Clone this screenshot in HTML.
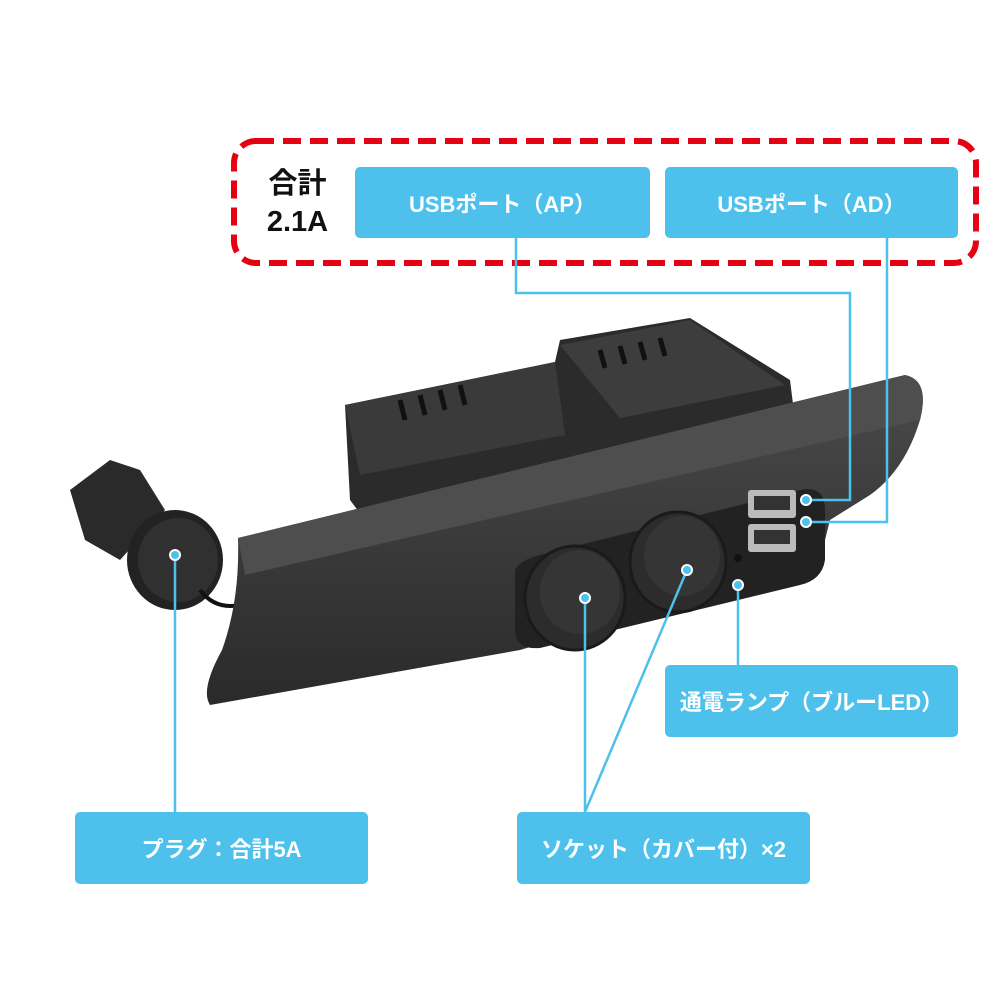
<!DOCTYPE html>
<html><head><meta charset="utf-8"><style>
body{margin:0;width:1000px;height:1000px;background:#fff;position:relative;overflow:hidden;font-family:"Liberation Sans","Noto Sans CJK JP",sans-serif}
.b{position:absolute;background:#4dc0ec;color:#fff;font-weight:bold;font-size:22px;display:flex;align-items:center;justify-content:center;border-radius:5px}
</style></head><body>
<svg width="1000" height="1000" style="position:absolute;left:0;top:0">
<defs>
<linearGradient id="g1" x1="0" y1="0" x2="0" y2="1"><stop offset="0" stop-color="#4a4a4a"/><stop offset="1" stop-color="#2a2a2a"/></linearGradient>
<linearGradient id="g2" x1="0" y1="0" x2="0" y2="1"><stop offset="0" stop-color="#555"/><stop offset="1" stop-color="#333"/></linearGradient>
</defs>
<!-- back box -->
<polygon points="345,405 555,362 560,340 690,318 790,380 795,420 800,470 380,540 350,500" fill="#2b2b2b"/>
<polygon points="345,405 555,362 565,435 360,475" fill="#3a3a3a"/>
<polygon points="560,345 690,320 785,385 620,418" fill="#3d3d3d"/>
<g stroke="#111" stroke-width="5">
<line x1="400" y1="400" x2="405" y2="420"/><line x1="420" y1="395" x2="425" y2="415"/><line x1="440" y1="390" x2="445" y2="410"/><line x1="460" y1="385" x2="465" y2="405"/>
<line x1="600" y1="350" x2="605" y2="368"/><line x1="620" y1="346" x2="625" y2="364"/><line x1="640" y1="342" x2="645" y2="360"/><line x1="660" y1="338" x2="665" y2="356"/>
</g>
<!-- plug -->
<polygon points="70,490 110,460 140,470 165,510 120,560 85,540" fill="#2a2a2a"/>
<ellipse cx="175" cy="560" rx="48" ry="50" fill="#222"/>
<ellipse cx="178" cy="560" rx="40" ry="42" fill="#303030"/>
<path d="M200,590 Q215,610 240,605" stroke="#111" stroke-width="4" fill="none"/>
<!-- bar -->
<path d="M238,538 L905,375 Q930,380 920,420 Q905,470 870,495 L830,520 L820,560 L520,650 L210,705 Q200,690 222,650 Q240,600 238,538 Z" fill="url(#g1)"/>
<path d="M238,538 L905,375 Q930,380 920,420 L245,575 Z" fill="#4e4e4e"/>
<!-- socket module -->
<path d="M515,570 Q520,560 540,555 L800,490 Q825,485 825,510 L825,560 Q822,580 800,585 L540,648 Q515,650 515,630 Z" fill="#222"/>
<ellipse cx="575" cy="598" rx="50" ry="52" fill="#2c2c2c" stroke="#1a1a1a" stroke-width="3"/>
<ellipse cx="580" cy="592" rx="40" ry="42" fill="#353535"/>
<ellipse cx="678" cy="562" rx="48" ry="50" fill="#2c2c2c" stroke="#1a1a1a" stroke-width="3"/>
<ellipse cx="682" cy="556" rx="38" ry="40" fill="#353535"/>
<rect x="748" y="490" width="48" height="28" rx="3" fill="#bbb"/><rect x="754" y="496" width="36" height="14" fill="#333"/>
<rect x="748" y="524" width="48" height="28" rx="3" fill="#bbb"/><rect x="754" y="530" width="36" height="14" fill="#333"/>
<circle cx="738" cy="558" r="4" fill="#111"/>
<!-- dashed -->
<rect x="234" y="141" width="742" height="122" rx="22" fill="none" stroke="#e60012" stroke-width="6" stroke-dasharray="18,9"/>
<!-- lines -->
<g stroke="#4dc0ec" stroke-width="2.5" fill="none">
<polyline points="516,238 516,293 850,293 850,500 808,500"/>
<polyline points="887,238 887,522 808,522"/>
<line x1="738" y1="665" x2="738" y2="585"/>
<line x1="585" y1="812" x2="585" y2="598"/>
<line x1="585" y1="812" x2="687" y2="570"/>
<line x1="175" y1="812" x2="175" y2="555"/>
</g>
<g fill="#4dc0ec" stroke="#fff" stroke-width="2">
<circle cx="806" cy="500" r="5"/><circle cx="806" cy="522" r="5"/><circle cx="738" cy="585" r="5"/>
<circle cx="585" cy="598" r="5"/><circle cx="687" cy="570" r="5"/><circle cx="175" cy="555" r="5"/>
</g>
</svg>
<div style="position:absolute;left:250px;top:165px;width:95px;text-align:center;font-weight:bold;font-size:29px;line-height:38px;color:#111">合計<br>2.1A</div>
<div class="b" style="left:355px;top:167px;width:295px;height:71px">USBポート（AP）</div>
<div class="b" style="left:665px;top:167px;width:293px;height:71px">USBポート（AD）</div>
<div class="b" style="left:665px;top:665px;width:293px;height:72px">通電ランプ（ブルーLED）</div>
<div class="b" style="left:75px;top:812px;width:293px;height:72px">プラグ：合計5A</div>
<div class="b" style="left:517px;top:812px;width:293px;height:72px">ソケット（カバー付）×2</div>
</body></html>
